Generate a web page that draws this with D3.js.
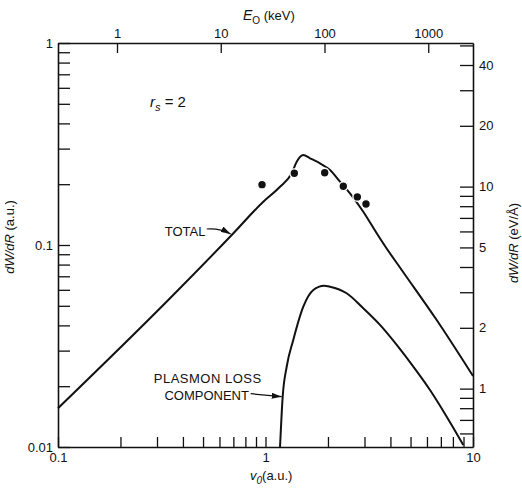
<!DOCTYPE html>
<html>
<head>
<meta charset="utf-8">
<script src="https://cdn.jsdelivr.net/npm/d3@7"></script>
<style>
  body { margin: 0; background: #fff; }
  svg text { font-family: "Liberation Sans", Arial, sans-serif; fill: #111; }
</style>
</head>
<body>
<div id="canvas"></div>
<script>
// velocity (a.u.) vs stopping power (a.u.)
const totalV = [0.1, 0.340, 0.6875, 0.9759, 1.175, 1.338, 1.414, 1.521, 1.639, 1.831, 2.046, 2.286, 2.554, 2.96, 3.435, 3.737, 4.533, 6.685, 10];
const totalW = [0.01555, 0.0534, 0.1121, 0.1638, 0.1943, 0.2265, 0.2585, 0.279, 0.2687, 0.2537, 0.235, 0.2058, 0.1803, 0.1462, 0.1143, 0.1, 0.0752, 0.0425, 0.02246];

const plasmonV = [1.175, 1.21, 1.265, 1.361, 1.521, 1.70, 1.914, 2.046, 2.462, 2.96, 3.563, 4.29, 5.156, 6.206, 7.469, 8.982];
const plasmonW = [0.01, 0.01774, 0.02497, 0.0339, 0.0495, 0.0599, 0.0629, 0.0622, 0.0577, 0.0486, 0.0402, 0.032, 0.025, 0.01915, 0.01413, 0.01023];

const dotV = [0.962, 1.377, 1.929, 2.371, 2.77, 3.05];
const dotW = [0.199, 0.2265, 0.228, 0.1953, 0.173, 0.1596];

const bottomTicks = [0.1, 0.2, 0.3, 0.4, 0.5, 0.6, 0.7, 0.8, 0.9, 1, 2, 3, 4, 5, 6, 7, 8, 9, 10];
const bottomLabels = [0.1, 1, 10];
const leftTicks = [0.01, 0.02, 0.03, 0.04, 0.05, 0.06, 0.07, 0.08, 0.09, 0.1, 0.2, 0.3, 0.4, 0.5, 0.6, 0.7, 0.8, 0.9, 1];
const leftLabels = [0.01, 0.1, 1];
const topTicks = [1, 10, 100, 1000];
const rightTicks = [0.6, 0.7, 0.8, 0.9, 1, 2, 3, 4, 5, 6, 7, 8, 9, 10, 20, 30, 40, 50];
const rightLabels = [1, 2, 5, 10, 20, 40];

const keVperV2 = 27;      // E0 (keV) = 27 * v0^2
const eVperAngPerAU = 51.4; // 1 a.u. of dW/dR in eV/Å

const width = 522, height = 489;
const margin = { left: 58, right: 49, top: 43, bottom: 42 };

const svg = d3.select("#canvas").append("svg")
  .attr("width", width)
  .attr("height", height);

const x = d3.scaleLog().domain([0.1, 10]).range([margin.left, width - margin.right]);
const y = d3.scaleLog().domain([0.01, 1]).range([height - margin.bottom, margin.top]);
const xE = d3.scaleLog()
  .domain(x.domain().map(v => keVperV2 * v * v))
  .range(x.range());
const yR = d3.scaleLog()
  .domain(y.domain().map(w => w * eVperAngPerAU))
  .range(y.range());

const fmt = list => d => list.includes(d) ? String(d) : "";

const styleAxis = (g, size) => {
  g.select(".domain").attr("stroke", "#111").attr("stroke-width", 1.6);
  g.selectAll(".tick line").attr("stroke", "#111").attr("stroke-width", 1.3);
  g.selectAll(".tick text").attr("font-size", size).attr("fill", "#111")
    .style("font-family", '"Liberation Sans", Arial, sans-serif');
};

const xAxisGroup = svg.append("g")
  .attr("transform", `translate(0, ${y.range()[0]})`)
  .call(d3.axisBottom(x).tickValues(bottomTicks).tickFormat(fmt(bottomLabels))
    .tickSize(-10).tickSizeOuter(0).tickPadding(6));
styleAxis(xAxisGroup, 13);

const yAxisGroup = svg.append("g")
  .attr("transform", `translate(${x.range()[0]}, 0)`)
  .call(d3.axisLeft(y).tickValues(leftTicks).tickFormat(fmt(leftLabels))
    .tickSize(-12).tickSizeOuter(0).tickPadding(5));
styleAxis(yAxisGroup, 13);

const topAxisGroup = svg.append("g")
  .attr("transform", `translate(0, ${y.range()[1]})`)
  .call(d3.axisTop(xE).tickValues(topTicks).tickFormat(d3.format("d"))
    .tickSize(-10).tickSizeOuter(0).tickPadding(5));
styleAxis(topAxisGroup, 13);

const rightAxisGroup = svg.append("g")
  .attr("transform", `translate(${x.range()[1]}, 0)`)
  .call(d3.axisRight(yR).tickValues(rightTicks).tickFormat(fmt(rightLabels))
    .tickSize(-13).tickSizeOuter(0).tickPadding(6));
styleAxis(rightAxisGroup, 13);

// curves
const line = d3.line()
  .x(d => x(d[0]))
  .y(d => y(d[1]))
  .curve(d3.curveMonotoneX);

svg.append("path")
  .datum(d3.zip(totalV, totalW))
  .attr("d", line)
  .attr("fill", "none")
  .attr("stroke", "#111")
  .attr("stroke-width", 2);

svg.append("path")
  .datum(d3.zip(plasmonV, plasmonW))
  .attr("d", line)
  .attr("fill", "none")
  .attr("stroke", "#111")
  .attr("stroke-width", 2);

svg.selectAll("circle.dot")
  .data(d3.zip(dotV, dotW))
  .enter()
  .append("circle")
  .attr("class", "dot")
  .attr("cx", d => x(d[0]))
  .attr("cy", d => y(d[1]))
  .attr("r", 4.4)
  .attr("fill", "#111")
  .attr("stroke", "#fff")
  .attr("stroke-width", 1.4);

// arrow marker
svg.append("defs").append("marker")
  .attr("id", "arrow")
  .attr("viewBox", "0 0 10 6")
  .attr("refX", 10).attr("refY", 3)
  .attr("markerWidth", 10).attr("markerHeight", 6)
  .attr("markerUnits", "userSpaceOnUse")
  .attr("orient", "auto")
  .append("path")
  .attr("d", "M0,0 L10,3 L0,6 Z")
  .attr("fill", "#111");

// annotations (anchored on the curves)
const totalTip = [x(0.6875), y(0.1121)];
svg.append("text")
  .attr("x", totalTip[0] - 67).attr("y", totalTip[1] + 1)
  .attr("font-size", 13)
  .text("TOTAL");
svg.append("path")
  .attr("d", `M${totalTip[0] - 25},${totalTip[1] - 6} Q${totalTip[0] - 12},${totalTip[1] - 7} ${totalTip[0] - 1},${totalTip[1] - 1}`)
  .attr("fill", "none").attr("stroke", "#111").attr("stroke-width", 1.2)
  .attr("marker-end", "url(#arrow)");

const plasTip = [x(1.21), y(0.01774)];
svg.append("text")
  .attr("x", plasTip[0] - 75).attr("y", plasTip[1] - 14)
  .attr("text-anchor", "middle").attr("font-size", 13)
  .attr("letter-spacing", 0.5)
  .text("PLASMON LOSS");
svg.append("text")
  .attr("x", plasTip[0] - 76).attr("y", plasTip[1] + 3)
  .attr("text-anchor", "middle").attr("font-size", 13)
  .text("COMPONENT");
svg.append("path")
  .attr("d", `M${plasTip[0] - 32},${plasTip[1] - 3} L${plasTip[0] - 1},${plasTip[1]}`)
  .attr("fill", "none").attr("stroke", "#111").attr("stroke-width", 1.2)
  .attr("marker-end", "url(#arrow)");

// r_s = 2
const rs = svg.append("text").attr("x", 150).attr("y", 107).attr("font-size", 15);
rs.append("tspan").attr("font-style", "italic").text("r");
rs.append("tspan").attr("font-style", "italic").attr("font-size", 11).attr("dy", 4).text("s");
rs.append("tspan").attr("dy", -4).text(" = 2");

// axis titles
const bt = svg.append("text").attr("x", 250).attr("y", 480).attr("font-size", 13);
bt.append("tspan").attr("font-style", "italic").text("v");
bt.append("tspan").attr("font-size", 10).attr("font-style", "italic").attr("dy", 4).text("0");
bt.append("tspan").attr("dy", -4).text("(a.u.)");

const tt = svg.append("text").attr("x", 243).attr("y", 20).attr("font-size", 13);
tt.append("tspan").attr("font-style", "italic").attr("font-size", 14).text("E");
tt.append("tspan").attr("font-size", 10).attr("dy", 4).text("O");
tt.append("tspan").attr("dy", -4).text(" (keV)");

const lt = svg.append("text")
  .attr("transform", "translate(14, 237) rotate(-90)")
  .attr("text-anchor", "middle").attr("font-size", 13);
lt.append("tspan").attr("font-style", "italic").text("dW/dR");
lt.append("tspan").text(" (a.u.)");

const rt = svg.append("text")
  .attr("transform", "translate(518, 243) rotate(-90)")
  .attr("text-anchor", "middle").attr("font-size", 13);
rt.append("tspan").attr("font-style", "italic").text("dW/dR");
rt.append("tspan").text(" (eV/Å)");
</script>
</body>
</html>
